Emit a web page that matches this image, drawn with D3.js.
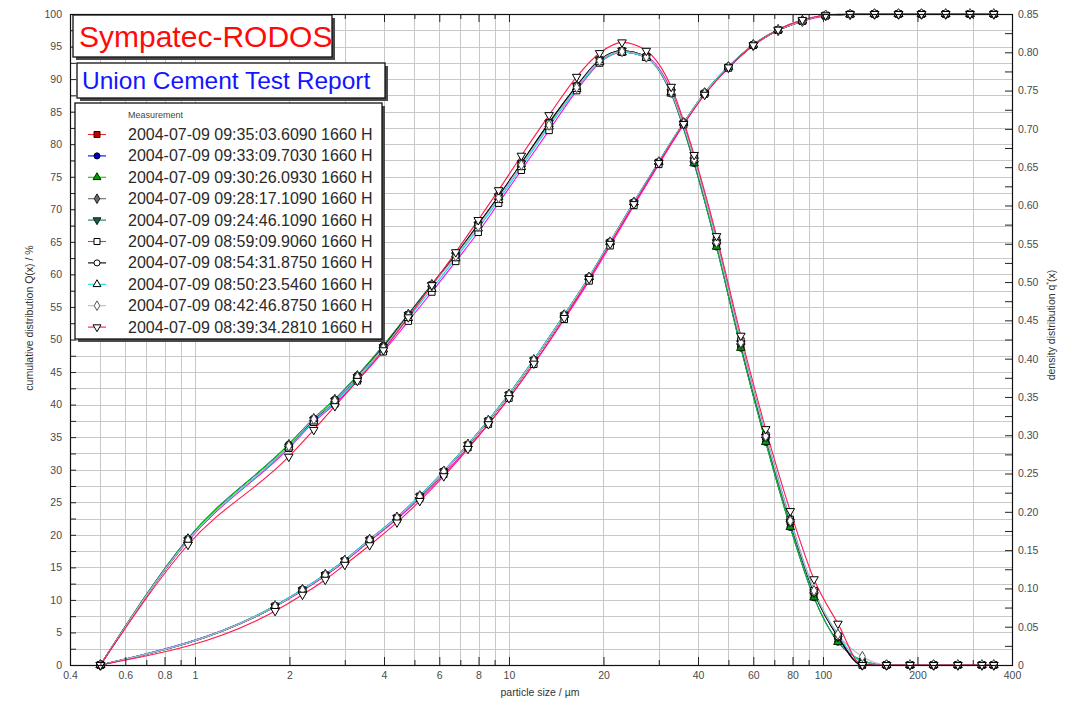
<!DOCTYPE html>
<html>
<head>
<meta charset="utf-8">
<script src="https://cdn.jsdelivr.net/npm/d3@7"></script>
<style>
  body { margin: 0; background: #fff; }
  text { font-family: Arial, "Liberation Sans", sans-serif; }
</style>
</head>
<body>
<div id="chart"></div>
<script>
// class boundaries (cumulative Q3 is plotted here), µm
var sizeBounds = [0.5, 1.8, 2.2, 2.6, 3.0, 3.6, 4.4, 5.2, 6.2, 7.4, 8.6, 10, 12, 15, 18, 21, 25, 30,
    36, 42, 50, 60, 72, 86, 102, 122, 146, 174, 206, 246, 294, 350];
// class centres (density q3* is plotted here), µm
var sizeMids = [0.5, 0.95, 1.99, 2.39, 2.79, 3.29, 3.98, 4.78, 5.68, 6.77, 7.98, 9.27, 10.95, 13.42,
    16.43, 19.44, 22.91, 27.39, 32.86, 38.88, 45.83, 54.77, 65.73, 78.69, 93.66, 111.6, 133.5,
    159.4, 189.3, 225.1, 268.9, 320.8, 350];

// cumulative distribution Q(x) / %
var cumA = [0, 9.0, 11.5, 13.8, 16.0, 19.2, 22.6, 25.9, 29.7, 33.8, 37.5, 41.5, 46.8, 53.7, 59.5, 64.9,
    71.0, 77.2, 83.2, 87.8, 91.8, 95.2, 97.5, 98.9, 99.8, 99.95, 100, 100, 100, 100, 100, 100];
var cumB = [0, 9.1, 11.6, 13.9, 16.1, 19.3, 22.7, 26.0, 29.8, 33.9, 37.6, 41.6, 46.9, 53.8, 59.6, 65.0,
    71.1, 77.3, 83.3, 87.9, 91.9, 95.3, 97.6, 99.0, 99.8, 99.95, 100, 100, 100, 100, 100, 100];
var cumPink = [0, 9.0, 11.4, 13.7, 15.9, 19.0, 22.4, 25.6, 29.3, 33.4, 37.0, 41.0, 46.2, 53.1, 59.0, 64.4,
    70.6, 76.9, 83.0, 87.7, 91.7, 95.2, 97.5, 98.9, 99.7, 99.95, 100, 100, 100, 100, 100, 100];
var cumRed = [0, 8.3, 10.8, 13.1, 15.4, 18.4, 21.9, 25.2, 29.0, 33.2, 37.0, 41.0, 46.3, 53.3, 59.3, 64.7,
    70.8, 77.1, 83.1, 87.6, 91.8, 95.2, 97.6, 99.1, 99.8, 100, 100, 100, 100, 100, 100, 100];

// density distribution q*(x)
var densA = [0, 0.163, 0.285, 0.320, 0.345, 0.376, 0.415, 0.457, 0.496, 0.535, 0.575, 0.612, 0.655, 0.708,
    0.756, 0.790, 0.802, 0.794, 0.748, 0.659, 0.552, 0.420, 0.298, 0.187, 0.095, 0.037, 0, 0, 0, 0, 0, 0, 0];
var densB = [0, 0.165, 0.288, 0.322, 0.347, 0.378, 0.417, 0.458, 0.497, 0.536, 0.575, 0.611, 0.654, 0.706,
    0.754, 0.788, 0.800, 0.793, 0.746, 0.655, 0.546, 0.414, 0.291, 0.180, 0.088, 0.030, 0.006, 0, 0, 0, 0, 0, 0];
var densPink = [0, 0.162, 0.283, 0.317, 0.341, 0.371, 0.409, 0.449, 0.487, 0.527, 0.565, 0.603, 0.646, 0.698,
    0.750, 0.786, 0.800, 0.794, 0.750, 0.662, 0.555, 0.423, 0.300, 0.190, 0.097, 0.038, 0, 0, 0, 0, 0, 0, 0];
var densCyan = [0, 0.163, 0.284, 0.318, 0.343, 0.373, 0.412, 0.453, 0.491, 0.531, 0.570, 0.607, 0.650, 0.703,
    0.752, 0.787, 0.800, 0.793, 0.748, 0.660, 0.553, 0.422, 0.300, 0.190, 0.097, 0.040, 0.004, 0, 0, 0, 0, 0, 0];
var densGray = [0, 0.163, 0.286, 0.321, 0.345, 0.376, 0.414, 0.456, 0.495, 0.534, 0.573, 0.610, 0.653, 0.705,
    0.754, 0.789, 0.801, 0.794, 0.748, 0.660, 0.552, 0.421, 0.299, 0.188, 0.097, 0.040, 0.011, 0, 0, 0, 0, 0, 0];
var densRed = [0, 0.157, 0.272, 0.307, 0.338, 0.371, 0.411, 0.454, 0.496, 0.539, 0.581, 0.620, 0.665, 0.718,
    0.768, 0.799, 0.813, 0.802, 0.755, 0.666, 0.560, 0.430, 0.308, 0.201, 0.112, 0.054, 0, 0, 0, 0, 0, 0, 0];

var measurements = [
    "2004-07-09 09:35:03.6090 1660 H",
    "2004-07-09 09:33:09.7030 1660 H",
    "2004-07-09 09:30:26.0930 1660 H",
    "2004-07-09 09:28:17.1090 1660 H",
    "2004-07-09 09:24:46.1090 1660 H",
    "2004-07-09 08:59:09.9060 1660 H",
    "2004-07-09 08:54:31.8750 1660 H",
    "2004-07-09 08:50:23.5460 1660 H",
    "2004-07-09 08:42:46.8750 1660 H",
    "2004-07-09 08:39:34.2810 1660 H"
];
var seriesCum = [cumA, cumB, cumB, cumA, cumA, cumPink, cumA, cumB, cumA, cumRed];
var seriesDens = [densA, densB, densB, densA, densA, densPink, densA, densCyan, densGray, densRed];

var xLabels = [0.4, 0.6, 0.8, 1, 2, 4, 6, 8, 10, 20, 40, 60, 80, 100, 200, 400];

// look of each series: line colour, marker shape, marker fill, marker stroke
var styles = [
    { line: "#f0283c", shape: "square", fill: "#c00000", stroke: "#300000" },
    { line: "#0000ff", shape: "circle", fill: "#0000c8", stroke: "#000030" },
    { line: "#00cc00", shape: "up", fill: "#00a000", stroke: "#002800" },
    { line: "#7a6464", shape: "diamond", fill: "#6a6a6a", stroke: "#202020" },
    { line: "#1a7462", shape: "down", fill: "#1d5a4c", stroke: "#0c2018" },
    { line: "#ff00ff", shape: "square", fill: "#fff", stroke: "#000" },
    { line: "#000000", shape: "circle", fill: "#fff", stroke: "#000" },
    { line: "#00e4e4", shape: "up", fill: "#fff", stroke: "#000" },
    { line: "#c0b4c8", shape: "diamond", fill: "#fff", stroke: "#555" },
    { line: "#ff1a4a", shape: "down", fill: "#fff", stroke: "#000" }
];

var width = 1073, height = 705;
var plot = { left: 70, right: 1012, top: 14, bottom: 665 };

var svg = d3.select("#chart").append("svg")
    .attr("width", width)
    .attr("height", height);

var x = d3.scaleLog().domain([0.4, 400]).range([plot.left, plot.right]);
var yCum = d3.scaleLinear().domain([0, 100]).range([plot.bottom, plot.top]);
var yDens = d3.scaleLinear().domain([0, 0.85]).range([plot.bottom, plot.top]);

var xTicks = x.ticks();
var leftTicks = d3.range(0, 100.001, 2.5);
var rightTicks = d3.range(0, 0.8501, 0.025);

// grid
var grid = svg.append("g").attr("stroke", "#c8c8c8").attr("stroke-width", 1);
grid.selectAll(".gx")
    .data(xTicks)
    .join("line")
    .attr("x1", d => Math.round(x(d)) + 0.5)
    .attr("x2", d => Math.round(x(d)) + 0.5)
    .attr("y1", plot.top)
    .attr("y2", plot.bottom);
grid.selectAll(".gy")
    .data(leftTicks)
    .join("line")
    .attr("x1", plot.left)
    .attr("x2", plot.right)
    .attr("y1", d => Math.round(yCum(d)) + 0.5)
    .attr("y2", d => Math.round(yCum(d)) + 0.5);

// curves
var lineCum = d3.line()
    .x(d => x(d[0]))
    .y(d => yCum(d[1]))
    .curve(d3.curveMonotoneX);
var lineDens = d3.line()
    .x(d => x(d[0]))
    .y(d => yDens(d[1]))
    .curve(d3.curveMonotoneX);

function symbolPath(shape, size) {
    var type = { square: d3.symbolSquare, circle: d3.symbolCircle, up: d3.symbolTriangle,
        down: d3.symbolTriangle, diamond: d3.symbolDiamond }[shape];
    var s = shape === "square" ? size : shape === "circle" ? size * 0.8 : size * 0.75;
    return d3.symbol().type(type).size(s)();
}

var curves = svg.append("g").attr("fill", "none").attr("stroke-width", 1.1);
seriesCum.forEach(function (cum, i) {
    curves.append("path")
        .datum(d3.zip(sizeBounds, cum))
        .attr("stroke", styles[i].line)
        .attr("d", lineCum);
    curves.append("path")
        .datum(d3.zip(sizeMids, seriesDens[i]))
        .attr("stroke", styles[i].line)
        .attr("d", lineDens);
});

var markers = svg.append("g");
seriesCum.forEach(function (cum, i) {
    var st = styles[i];
    var pts = d3.zip(sizeBounds, cum).map(d => [x(d[0]), yCum(d[1])])
        .concat(d3.zip(sizeMids, seriesDens[i]).map(d => [x(d[0]), yDens(d[1])]));
    markers.selectAll(".m" + i)
        .data(pts)
        .join("path")
        .attr("d", symbolPath(st.shape, 42))
        .attr("transform", d => "translate(" + d[0] + "," + d[1] + ")" + (st.shape === "down" ? " rotate(180)" : ""))
        .attr("fill", st.fill)
        .attr("stroke", st.stroke)
        .attr("stroke-width", 1);
});

// axes
var tickColor = "#4a4a4a";
var isLabelled = d => xLabels.some(v => Math.abs(v - d) < 1e-9);

var bottomAxis = svg.append("g")
    .attr("transform", "translate(0," + plot.bottom + ")")
    .call(d3.axisBottom(x).tickValues(xTicks).tickSize(-5).tickSizeOuter(0).tickPadding(7)
        .tickFormat(d => isLabelled(d) ? d3.format("")(d) : ""));
bottomAxis.selectAll(".tick line").attr("y2", d => isLabelled(d) ? -8 : -5);

var topAxis = svg.append("g")
    .attr("transform", "translate(0," + plot.top + ")")
    .call(d3.axisTop(x).tickValues(xTicks).tickSize(-5).tickSizeOuter(0).tickFormat(""));
topAxis.selectAll(".tick line").attr("y2", d => isLabelled(d) ? 8 : 5);

svg.append("g")
    .attr("transform", "translate(" + plot.left + ",0)")
    .call(d3.axisLeft(yCum).tickValues(leftTicks).tickSize(-6).tickSizeOuter(0).tickPadding(8)
        .tickFormat(d => d % 5 === 0 ? d : ""));

svg.append("g")
    .attr("transform", "translate(" + plot.right + ",0)")
    .call(d3.axisRight(yDens).tickValues(rightTicks).tickSize(-7).tickSizeOuter(0).tickPadding(6)
        .tickFormat(d => Math.round(d * 1000) % 50 === 0 ? (d === 0 ? "0" : d3.format(".2f")(d)) : ""));

svg.selectAll(".tick text")
    .attr("fill", tickColor)
    .style("font-size", "10.5px")
    .style("font-family", "Arial, 'Liberation Sans', sans-serif");
svg.selectAll(".tick line").attr("stroke", "#222");
svg.selectAll(".domain").remove();

svg.append("rect")
    .attr("x", plot.left + 0.5)
    .attr("y", plot.top + 0.5)
    .attr("width", plot.right - plot.left)
    .attr("height", plot.bottom - plot.top)
    .attr("fill", "none")
    .attr("stroke", "#111")
    .attr("stroke-width", 1.2);

// axis titles
svg.append("text")
    .attr("transform", "translate(33,318) rotate(-90)")
    .attr("text-anchor", "middle")
    .attr("fill", "#333")
    .style("font-size", "10.5px")
    .text("cumulative distribution Q(x) / %");

var rTitle = svg.append("text")
    .attr("transform", "translate(1055,325) rotate(-90)")
    .attr("text-anchor", "middle")
    .attr("fill", "#333")
    .style("font-size", "10.5px");
rTitle.append("tspan").text("density distribution q");
rTitle.append("tspan").attr("dy", -4).style("font-size", "7px").text("*");
rTitle.append("tspan").attr("dy", 4).text("(x)");

svg.append("text")
    .attr("x", 540)
    .attr("y", 696)
    .attr("text-anchor", "middle")
    .attr("fill", "#333")
    .style("font-size", "10.5px")
    .text("particle size / µm");

// boxes with shadows
function shadowBox(bx, by, bw, bh) {
    svg.append("rect").attr("x", bx + 3).attr("y", by + 3).attr("width", bw).attr("height", bh)
        .attr("fill", "#4a4a4a");
    svg.append("rect").attr("x", bx).attr("y", by).attr("width", bw).attr("height", bh)
        .attr("fill", "#fff").attr("stroke", "#111").attr("stroke-width", 1.3);
}

shadowBox(73, 15, 259, 42);
svg.append("text").attr("x", 79).attr("y", 47)
    .attr("fill", "#ff0a0a")
    .style("font-size", "30px")
    .text("Sympatec-RODOS");

shadowBox(77, 63, 308, 35);
svg.append("text").attr("x", 82).attr("y", 89)
    .attr("fill", "#1414ff")
    .style("font-size", "24.5px")
    .text("Union Cement Test Report");

shadowBox(75, 103, 307, 236);
svg.append("text").attr("x", 128).attr("y", 118)
    .attr("fill", "#444")
    .style("font-size", "9px")
    .text("Measurement");

var legend = svg.append("g");
measurements.forEach(function (label, i) {
    var st = styles[i];
    var ly = 134.5 + i * 21.4;
    legend.append("line")
        .attr("x1", 88).attr("x2", 106)
        .attr("y1", ly).attr("y2", ly)
        .attr("stroke", st.line)
        .attr("stroke-width", 1.1);
    legend.append("path")
        .attr("d", symbolPath(st.shape, 36))
        .attr("transform", "translate(97," + ly + ")" + (st.shape === "down" ? " rotate(180)" : ""))
        .attr("fill", st.fill)
        .attr("stroke", st.stroke);
    legend.append("text")
        .attr("x", 128)
        .attr("y", ly + 5.5)
        .attr("fill", "#2a2a2a")
        .style("font-size", "16px")
        .text(label);
});
</script>
</body>
</html>
